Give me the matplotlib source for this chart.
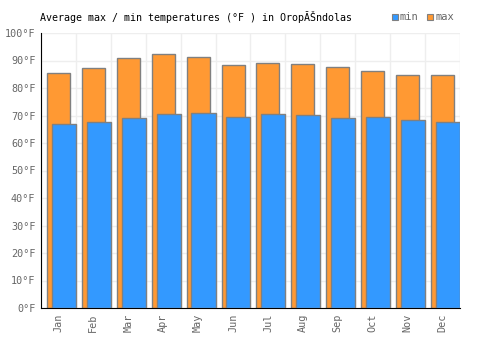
import matplotlib
matplotlib.use("Agg")
import matplotlib.pyplot as plt
from matplotlib.patches import Rectangle

months = ["Jan", "Feb", "Mar", "Apr", "May", "Jun", "Jul", "Aug", "Sep", "Oct", "Nov", "Dec"]
max_temps = [85.3, 87.4, 90.8, 92.2, 91.2, 88.3, 89.0, 88.6, 87.5, 86.1, 84.6, 84.6]
min_temps = [67.0, 67.5, 69.0, 70.4, 70.8, 69.3, 70.4, 70.1, 69.0, 69.3, 68.2, 67.5]
yticks = [0, 10, 20, 30, 40, 50, 60, 70, 80, 90, 100]

ORANGE = "#FF9933"
BLUE = "#3399FF"
EDGE = "#808080"
FONT = "DejaVu Sans Mono"

fig = plt.figure(figsize=(5, 3.5), dpi=100)
ax = fig.add_axes([41/500, 1 - 308/350, (460-41)/500, (308-33)/350])

x = list(range(len(months)))
ax.bar([i + 0.17 for i in x], max_temps, width=0.66, align="edge",
       color=ORANGE, edgecolor=EDGE, linewidth=1, zorder=2)
ax.bar([i + 0.31 for i in x], min_temps, width=0.69, align="edge",
       color=BLUE, edgecolor=EDGE, linewidth=1, zorder=3)

ax.set_xlim(0, 12)
ax.set_ylim(0, 100)
ax.set_yticks(yticks)
ax.set_yticklabels([f"{v}°F" for v in yticks], fontfamily=FONT, fontsize=7.3, color="#666666")
ax.set_xticks([i + 0.5 for i in x])
ax.set_xticklabels(months, rotation=90, fontfamily=FONT, fontsize=7.3, color="#666666")
ax.set_xticks(range(13), minor=True)
ax.tick_params(axis="both", which="both", length=0, pad=4)
ax.grid(True, which="minor", axis="x", color="#eeeeee", linewidth=1, zorder=0)
ax.grid(True, which="major", axis="y", color="#eeeeee", linewidth=1, zorder=0)
ax.set_axisbelow(True)
for s in ["top", "right"]:
    ax.spines[s].set_visible(False)
ax.spines["left"].set_color("black")
ax.spines["bottom"].set_color("black")

fig.text(40/500, 1 - 17/350, "Average max / min temperatures (°F ) in OropĂŠndolas",
         fontfamily=FONT, fontsize=7.2, color="black", va="center", ha="left")

# legend
for (lx, label, col) in [(392, "min", BLUE), (427, "max", ORANGE)]:
    fig.patches.append(Rectangle((lx/500, 1 - 20/350), 6/500, 6/350,
                                 transform=fig.transFigure, facecolor=col,
                                 edgecolor=EDGE, linewidth=0.8))
    fig.text((lx + 8)/500, 1 - 17/350, label, fontfamily=FONT, fontsize=7.5,
             color="#666666", va="center", ha="left")

fig.savefig("out.png", dpi=100)
